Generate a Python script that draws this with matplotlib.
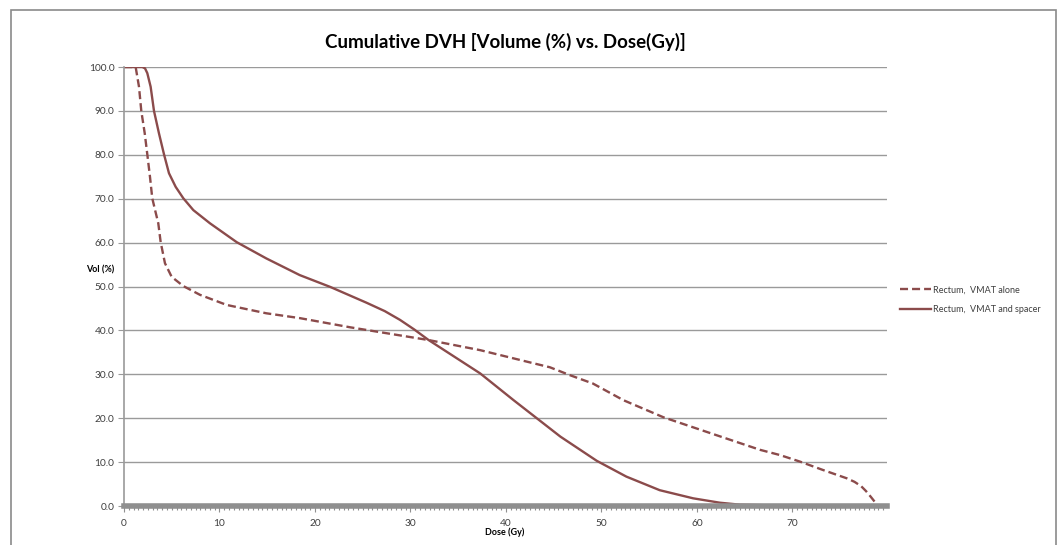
import numpy as np
import matplotlib
matplotlib.use("Agg")
import matplotlib.pyplot as plt
from matplotlib.patches import Rectangle
from matplotlib.ticker import MultipleLocator, FormatStrFormatter

plt.rcParams['font.family'] = ['Lato', 'DejaVu Sans']

# Rectum, VMAT alone (dashed)
dose_alone = [0, 1.22, 1.57, 1.81, 2.17, 2.44, 2.72, 2.96, 3.3, 3.59, 3.84, 4.29, 4.99,
              6.21, 7.96, 10.75, 14.9, 18.4, 23.7, 25.4, 31.9, 37.3, 42.9, 44.6, 46.7,
              49.1, 52.3, 56.5, 61.4, 66.6, 68.7, 70.8, 73.2, 75.7, 76.5, 77.2, 77.7,
              78.2, 78.6, 79.0]
vol_alone = [100, 100, 95.5, 90, 84.9, 80.1, 75.0, 70.1, 67.0, 64.4, 60.1, 55.3, 52.2,
             50.1, 48.1, 45.8, 43.9, 42.8, 40.7, 40.1, 37.8, 35.5, 32.5, 31.6, 29.8,
             27.9, 24.1, 20.2, 16.6, 12.8, 11.6, 10.1, 8.2, 6.3, 5.5, 4.5, 3.4,
             2.1, 1.0, 0]

# Rectum, VMAT and spacer (solid)
dose_spacer = [0, 1.92, 2.2, 2.44, 2.79, 3.14, 3.66, 4.19, 4.71, 5.41, 6.21, 7.26, 9.0,
               11.8, 14.9, 18.4, 21.6, 25.4, 27.3, 28.9, 30.4, 31.9, 37.3, 40.8, 45.7,
               49.5, 52.6, 56.1, 59.6, 62.4, 64.5, 71.1]
vol_spacer = [100, 100, 99.7, 98.6, 95.5, 90, 84.9, 80.1, 75.8, 72.7, 70.1, 67.4, 64.4,
              60.1, 56.4, 52.6, 49.9, 46.3, 44.4, 42.4, 40.2, 37.8, 30.2, 24.1, 15.8,
              10.3, 6.7, 3.6, 1.75, 0.75, 0.3, 0]

labels = ["Rectum,  VMAT alone", "Rectum,  VMAT and spacer"]
line_color = '#8b4b4b'
grid_color = '#9a9a9a'
text_color = '#3f3f3f'

fig = plt.figure(figsize=(10.61, 5.45), dpi=100)
ax = fig.add_axes([124 / 1061, 39 / 545, 763 / 1061, 439 / 545])

ax.plot(dose_alone, vol_alone, color=line_color, lw=1.7, dashes=(3.4, 1.7), label=labels[0])
ax.plot(dose_spacer, vol_spacer, color=line_color, lw=1.7, label=labels[1])

ax.set_xlim(0, 79.9)
ax.set_ylim(0, 100)
ax.yaxis.set_major_locator(MultipleLocator(10))
ax.yaxis.set_major_formatter(FormatStrFormatter('%.1f'))
ax.xaxis.set_major_locator(MultipleLocator(10))
ax.xaxis.set_minor_locator(MultipleLocator(0.5))
ax.grid(axis='y', color=grid_color, lw=1.0)
ax.set_axisbelow(True)

for s in ['top', 'right']:
    ax.spines[s].set_visible(False)
ax.spines['left'].set_color(grid_color)
ax.spines['left'].set_linewidth(1.2)
ax.spines['bottom'].set_color('#8f8f8f')
ax.spines['bottom'].set_linewidth(4)

ax.tick_params(axis='y', length=4, color=grid_color, labelsize=7.3, labelcolor=text_color, pad=3)
ax.tick_params(axis='x', which='major', length=4, color='#8f8f8f', labelsize=7.3,
               labelcolor=text_color, pad=5)
ax.tick_params(axis='x', which='minor', length=3, color='#8f8f8f', width=0.8)

fig.text(505 / 1061, 1 - 42 / 545, "Cumulative DVH [Volume (%) vs. Dose(Gy)]",
         ha='center', va='center', fontsize=13.5, fontweight='bold', color='black')
fig.text(100 / 1061, 1 - 270 / 545, "Vol (%)", ha='center', va='center',
         fontsize=6.5, fontweight='bold', color='black')
fig.text(505 / 1061, 1 - 532 / 545, "Dose (Gy)", ha='center', va='center',
         fontsize=6.5, fontweight='bold', color='black')

fig.legend(loc='center left', bbox_to_anchor=(892 / 1061, 1 - 300 / 545), frameon=False,
           fontsize=6.5, handlelength=3.4, handletextpad=0.2, labelspacing=1.2,
           labelcolor=text_color)

fig.patches.append(Rectangle((11 / 1061, -0.05), 1045 / 1061, 1.05 - 10 / 545,
                             transform=fig.transFigure, fill=False,
                             edgecolor='#8a8a8a', lw=1.2))

fig.savefig("out.png", dpi=100)
